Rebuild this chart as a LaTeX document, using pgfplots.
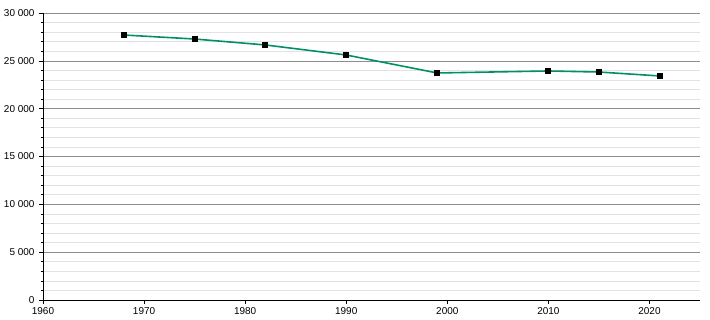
\documentclass[border=0pt]{standalone}
\usepackage{pgfplots}
\pgfplotsset{compat=1.18}
\usepackage{fontspec}
\setmainfont{Liberation Sans}
\definecolor{linegreen}{HTML}{009068}
\definecolor{majgrid}{HTML}{8C8C8C}
\definecolor{mingrid}{HTML}{E3E3E3}
\begin{document}
\begin{tikzpicture}
\begin{axis}[
  scale only axis,
  width=657bp, height=287bp,
  xmin=1960, xmax=2025,
  ymin=0, ymax=30000,
  axis x line*=bottom, axis y line*=left,
  axis line style={black, line width=0.8pt},
  xtick={1960,1970,...,2020},
  ytick={0,5000,...,30000},
  minor y tick num=4,
  tick align=outside,
  major tick length=4bp, minor tick length=2.5bp,
  tick style={black, line width=0.6pt},
  ymajorgrids, yminorgrids,
  major grid style={majgrid, line width=0.6pt},
  minor grid style={mingrid, line width=0.6pt},
  /pgf/number format/assume math mode=true,
  /pgf/number format/set thousands separator={\kern0.28em},
  xticklabel={\pgfmathprintnumber[1000 sep={}]{\tick}},
  tick label style={font=\fontsize{10}{12}\selectfont},
  yticklabel style={xshift=-1bp},
  scaled y ticks=false,
  clip=false,
]
\addplot[linegreen, line width=1.6pt, mark=square*, mark size=2.2bp,
  mark options={black, fill=black}] coordinates {
  (1968,27700) (1975,27280) (1982,26660) (1990,25610)
  (1999,23730) (2010,23940) (2015,23830) (2021,23420)
};
\end{axis}
\pgfresetboundingbox
\path ([xshift=-43bp,yshift=-20bp]current axis.south west)
      ([xshift=10bp,yshift=13bp]current axis.north east);
\end{tikzpicture}
\end{document}
